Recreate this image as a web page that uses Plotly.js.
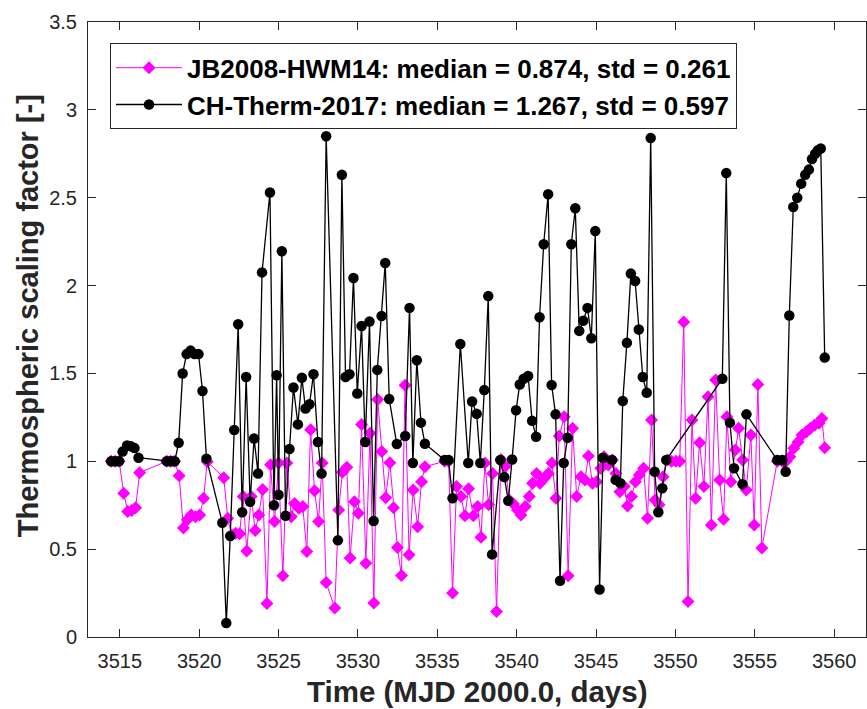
<!DOCTYPE html>
<html>
<head>
<meta charset="utf-8">
<script src="https://cdn.plot.ly/plotly-3.0.1.min.js"></script>
<style>html,body{margin:0;padding:0;background:#fff;}#chart{width:867px;height:709px;}</style>
</head>
<body>
<div id="chart"></div>
<script>
// JB2008-HWM14 scaling factors
const jbTime = [3514.46,3514.71,3514.96,3515.25,3515.5,3515.75,3516.0,3516.25,3517.96,3518.21,3518.46,3518.74,3519.01,3519.25,3519.5,3519.77,3520.03,3520.28,3520.51,3521.55,3521.8,3522.05,3522.3,3522.55,3522.77,3523.0,3523.28,3523.53,3523.76,3524.0,3524.27,3524.5,3524.75,3525.0,3525.27,3525.52,3525.8,3526.01,3526.28,3526.53,3526.78,3527.02,3527.27,3527.52,3527.75,3528.0,3528.54,3528.79,3529.02,3529.3,3529.51,3529.78,3530.03,3530.23,3530.5,3530.76,3531.0,3531.24,3531.5,3531.75,3532.01,3532.24,3532.49,3532.74,3532.97,3533.22,3533.48,3533.76,3534.01,3534.22,3535.46,3535.71,3535.96,3536.21,3536.49,3536.74,3536.97,3537.27,3537.54,3537.75,3538.0,3538.23,3538.48,3538.73,3539.01,3539.28,3539.53,3539.8,3540.05,3540.27,3540.54,3540.79,3541.0,3541.25,3541.47,3541.74,3541.99,3542.22,3542.47,3542.68,3542.99,3543.24,3543.52,3543.78,3544.05,3544.3,3544.52,3544.77,3545.03,3545.3,3545.5,3545.77,3546.03,3546.25,3546.5,3546.77,3546.98,3547.23,3547.48,3547.72,3547.99,3548.24,3548.49,3548.72,3548.97,3549.22,3549.5,3549.75,3550.02,3550.27,3550.52,3550.79,3551.04,3551.27,3551.52,3551.79,3552.05,3552.26,3552.53,3552.78,3553.03,3553.24,3553.49,3553.77,3553.98,3554.23,3554.46,3554.75,3554.96,3555.19,3555.44,3556.41,3556.73,3556.97,3557.2,3557.45,3557.72,3557.97,3558.25,3558.5,3558.77,3559.04,3559.22,3559.4];
const jbValue = [1.0,1.0,1.0,0.818,0.714,0.72,0.736,0.935,1.0,1.0,1.0,0.917,0.62,0.667,0.695,0.685,0.695,0.79,0.998,0.907,0.676,0.58,0.59,0.587,0.80,0.49,0.80,0.606,0.695,0.84,0.19,0.98,0.657,0.99,0.348,0.99,0.685,0.76,0.733,0.742,0.486,1.18,0.833,0.657,0.99,0.31,0.165,0.723,0.937,0.966,0.449,0.77,0.704,1.21,0.42,1.16,0.193,1.352,1.055,0.793,0.992,0.736,0.509,0.35,1.433,0.468,0.837,0.628,0.884,0.969,1.0,1.0,0.25,0.856,0.80,0.69,0.843,0.69,0.742,0.568,0.99,0.752,0.93,0.145,1.01,0.97,0.78,0.757,0.723,0.695,0.742,0.80,0.875,0.93,0.875,0.903,0.93,0.99,0.79,1.144,1.253,0.348,1.188,0.80,0.912,0.894,1.03,0.875,0.884,0.96,1.026,0.979,1.007,0.93,0.827,0.856,0.746,0.80,0.884,0.922,0.96,0.676,1.235,0.78,0.752,0.912,1.007,1.0,1.0,1.0,1.793,0.202,1.235,0.79,1.106,0.856,1.367,0.638,1.462,0.894,0.67,1.253,0.884,1.064,1.188,1.007,0.837,1.15,0.638,1.437,0.506,1.0,1.0,1.0,1.026,1.074,1.11,1.15,1.168,1.188,1.206,1.216,1.244,1.077];

// CH-Therm-2017 scaling factors
const chTime = [3514.46,3514.71,3514.96,3515.18,3515.46,3515.7,3515.93,3516.18,3517.96,3518.21,3518.46,3518.71,3518.96,3519.21,3519.46,3519.71,3519.96,3520.21,3520.46,3521.46,3521.71,3521.96,3522.21,3522.46,3522.71,3522.96,3523.21,3523.46,3523.71,3523.96,3524.46,3524.71,3524.88,3525.0,3525.21,3525.44,3525.69,3525.94,3526.22,3526.47,3526.7,3526.95,3527.2,3527.48,3527.71,3528.0,3528.74,3528.99,3529.22,3529.47,3529.72,3529.96,3530.23,3530.46,3530.73,3530.99,3531.22,3531.49,3531.72,3531.97,3532.45,3532.98,3533.25,3533.46,3533.71,3533.97,3534.22,3535.46,3535.71,3535.96,3536.45,3536.95,3537.19,3537.48,3537.71,3537.96,3538.21,3538.45,3538.97,3539.22,3539.47,3539.71,3539.96,3540.19,3540.44,3540.72,3540.97,3541.22,3541.44,3541.7,3541.98,3542.2,3542.45,3542.73,3542.96,3543.21,3543.44,3543.69,3543.94,3544.19,3544.46,3544.7,3544.95,3545.22,3545.43,3546.0,3546.23,3546.53,3546.68,3546.94,3547.19,3547.46,3547.69,3547.94,3548.19,3548.44,3548.69,3548.92,3549.17,3549.42,3552.95,3553.2,3553.43,3553.69,3554.22,3554.47,3556.41,3556.73,3556.94,3557.17,3557.42,3557.67,3557.92,3558.17,3558.4,3558.6,3558.8,3558.97,3559.15,3559.4];
const chValue = [1.0,1.0,1.0,1.055,1.09,1.085,1.075,1.02,1.0,1.0,1.0,1.105,1.50,1.61,1.63,1.61,1.61,1.40,1.015,0.65,0.08,0.575,1.178,1.78,0.71,1.48,0.77,1.13,0.93,2.075,2.53,0.75,1.49,0.81,2.195,0.69,1.07,1.42,1.21,1.475,1.30,1.325,1.495,1.11,0.93,2.85,0.55,2.63,1.48,1.495,2.043,1.386,1.77,1.11,1.795,0.66,1.52,1.827,2.128,1.354,1.098,1.144,1.873,0.99,1.575,1.22,1.10,1.007,1.007,0.79,1.667,0.99,1.34,1.27,0.99,1.405,1.94,0.47,1.007,0.91,0.775,1.01,1.29,1.437,1.47,1.485,1.23,1.14,1.82,2.235,2.52,1.434,1.267,0.32,0.99,1.134,2.235,2.44,1.742,1.80,1.873,1.70,2.31,0.27,1.02,1.007,0.894,0.875,1.343,1.674,2.068,2.026,1.75,1.48,1.39,2.84,0.94,0.71,0.847,1.007,1.47,2.64,1.22,0.96,0.87,1.267,1.007,1.007,0.94,1.83,2.447,2.50,2.58,2.63,2.66,2.72,2.75,2.77,2.78,1.59];

const jbName = 'JB2008-HWM14: median = 0.874, std = 0.261';
const chName = 'CH-Therm-2017: median = 1.267, std = 0.597';
const xTickVals = [3515,3520,3525,3530,3535,3540,3545,3550,3555,3560];
const yTickVals = [0,0.5,1,1.5,2,2.5,3,3.5];
const xTitle = 'Time (MJD 2000.0, days)';
const yTitle = 'Thermospheric scaling factor [-]';

const axisColor = '#262626';
const fontFam = 'Liberation Sans, Arial, Helvetica, sans-serif';

const traces = [
  {x: jbTime, y: jbValue, type: 'scatter', mode: 'lines+markers', name: '<b>' + jbName + '</b>',
   line: {color: '#ff00ff', width: 1}, marker: {symbol: 'diamond', size: 10, color: '#ff00ff'}},
  {x: chTime, y: chValue, type: 'scatter', mode: 'lines+markers', name: '<b>' + chName + '</b>',
   line: {color: '#000000', width: 1.3}, marker: {symbol: 'circle', size: 10.5, color: '#000000'}}
];

const axisCommon = {
  showgrid: false, zeroline: false, showline: true, linecolor: axisColor, linewidth: 1,
  mirror: 'ticks', ticks: 'inside', ticklen: 8, tickwidth: 1, tickcolor: axisColor,
  tickfont: {family: fontFam, size: 20, color: axisColor}
};

const layout = {
  width: 867, height: 709,
  margin: {l: 88, r: 1, t: 22, b: 71.5},
  paper_bgcolor: '#ffffff', plot_bgcolor: '#ffffff',
  font: {family: fontFam},
  xaxis: Object.assign({}, axisCommon, {range: [3513, 3562], tickmode: 'array', tickvals: xTickVals,
    ticktext: xTickVals.map(String), ticklabelstandoff: 6}),
  yaxis: Object.assign({}, axisCommon, {range: [0, 3.5], tickmode: 'array', tickvals: yTickVals,
    ticktext: yTickVals.map(String), ticklabelstandoff: 6}),
  showlegend: true,
  legend: {x: 0.0283, y: 0.9654, xanchor: 'left', yanchor: 'top', bgcolor: '#ffffff',
    bordercolor: axisColor, borderwidth: 1, itemwidth: 66,
    font: {family: fontFam, size: 26, color: '#000000'}, tracegroupgap: 0},
  annotations: [
    {text: '<b>' + xTitle + '</b>', xref: 'paper', yref: 'paper', x: 0.5, y: -0.089,
     xanchor: 'center', yanchor: 'middle', showarrow: false,
     font: {family: fontFam, size: 29.5, color: axisColor}},
    {text: '<b>' + yTitle + '</b>', xref: 'paper', yref: 'paper', x: -0.0778, y: 0.5223,
     xanchor: 'center', yanchor: 'middle', textangle: -90, showarrow: false,
     font: {family: fontFam, size: 29, color: axisColor}}
  ]
};

Plotly.newPlot('chart', traces, layout, {displayModeBar: false, staticPlot: true});
</script>
</body>
</html>
